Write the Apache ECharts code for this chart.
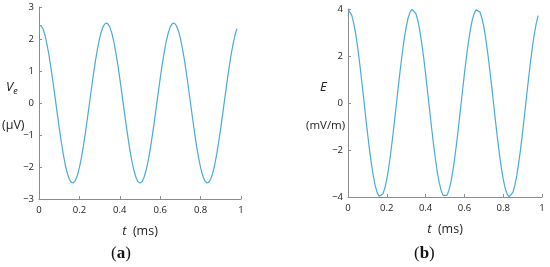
<!DOCTYPE html>
<html>
<head>
<meta charset="utf-8">
<script src="https://cdn.jsdelivr.net/npm/echarts@6/dist/echarts.min.js"></script>
<style>
  html, body { margin: 0; padding: 0; background: #fff; }
  #chart { width: 550px; height: 267px; }
</style>
</head>
<body>
<div id="chart"></div>
<script>
// time samples (ms)
const timeMs = [
  0, 0.01, 0.02, 0.03, 0.04, 0.05, 0.06, 0.07, 0.08, 0.09,
  0.1, 0.11, 0.12, 0.13, 0.14, 0.15, 0.16, 0.17, 0.18, 0.19,
  0.2, 0.21, 0.22, 0.23, 0.24, 0.25, 0.26, 0.27, 0.28, 0.29,
  0.3, 0.31, 0.32, 0.33, 0.34, 0.35, 0.36, 0.37, 0.38, 0.39,
  0.4, 0.41, 0.42, 0.43, 0.44, 0.45, 0.46, 0.47, 0.48, 0.49,
  0.5, 0.51, 0.52, 0.53, 0.54, 0.55, 0.56, 0.57, 0.58, 0.59,
  0.6, 0.61, 0.62, 0.63, 0.64, 0.65, 0.66, 0.67, 0.68, 0.69,
  0.7, 0.71, 0.72, 0.73, 0.74, 0.75, 0.76, 0.77, 0.78, 0.79,
  0.8, 0.81, 0.82, 0.83, 0.84, 0.85, 0.86, 0.87, 0.88, 0.89,
  0.9, 0.91, 0.92, 0.93, 0.94, 0.95, 0.96, 0.97, 0.98
]
// (a) Ve in µV
const veValues = [
  2.42, 2.42, 2.32, 2.11, 1.82, 1.47, 1.06, 0.62, 0.16, -0.31,
  -0.77, -1.2, -1.59, -1.93, -2.19, -2.38, -2.48, -2.5, -2.42, -2.26,
  -2.02, -1.71, -1.34, -0.92, -0.47, 0, 0.47, 0.92, 1.34, 1.71,
  2.02, 2.26, 2.42, 2.5, 2.48, 2.38, 2.19, 1.93, 1.59, 1.2,
  0.77, 0.31, -0.16, -0.62, -1.06, -1.47, -1.82, -2.11, -2.32, -2.46,
  -2.5, -2.46, -2.32, -2.11, -1.82, -1.47, -1.06, -0.62, -0.16, 0.31,
  0.77, 1.2, 1.59, 1.93, 2.19, 2.38, 2.48, 2.5, 2.42, 2.26,
  2.02, 1.71, 1.34, 0.92, 0.47, 0, -0.47, -0.92, -1.34, -1.71,
  -2.02, -2.26, -2.42, -2.5, -2.48, -2.38, -2.19, -1.93, -1.59, -1.2,
  -0.77, -0.31, 0.16, 0.62, 1.06, 1.47, 1.82, 2.11, 2.32
]
// (b) E in mV/m
const eValues = [
  4, 3.93, 3.72, 3.38, 2.92, 2.35, 1.7, 0.99, 0.25, -0.5,
  -1.24, -1.93, -2.55, -3.08, -3.51, -3.8, -3.97, -3.99, -3.87, -3.62,
  -3.24, -2.74, -2.14, -1.47, -0.75, 0, 0.75, 1.47, 2.14, 2.74,
  3.24, 3.62, 3.87, 3.99, 3.97, 3.8, 3.51, 3.08, 2.55, 1.93,
  1.24, 0.5, -0.25, -0.99, -1.7, -2.35, -2.92, -3.38, -3.72, -3.93,
  -4, -3.93, -3.72, -3.38, -2.92, -2.35, -1.7, -0.99, -0.25, 0.5,
  1.24, 1.93, 2.55, 3.08, 3.51, 3.8, 3.97, 3.99, 3.87, 3.62,
  3.24, 2.74, 2.14, 1.47, 0.75, 0, -0.75, -1.47, -2.14, -2.74,
  -3.24, -3.62, -3.87, -3.99, -3.97, -3.8, -3.51, -3.08, -2.55, -1.93,
  -1.24, -0.5, 0.25, 0.99, 1.7, 2.35, 2.92, 3.38, 3.72
]

const lineColor = '#4aaad8'
const axisColor = '#8c8c8c'
const tickFont = { color: '#222', fontSize: 9.5, fontFamily: 'Open Sans' }
const fmt = v => String(v).replace('-', '\u2212')

const xAxisBase = (gridIndex) => ({
  type: 'value',
  gridIndex,
  min: 0,
  max: 1,
  interval: 0.2,
  name: '{i|t}  (ms)',
  nameLocation: 'middle',
  nameGap: 26,
  nameTextStyle: {
    fontSize: 12.5, color: '#222', fontFamily: 'Open Sans',
    rich: { i: { fontStyle: 'italic', fontSize: 13, fontFamily: 'Open Sans', color: '#222' } }
  },
  axisLine: { onZero: false, lineStyle: { color: axisColor, width: 1 } },
  axisTick: { inside: true, length: 3, lineStyle: { color: axisColor } },
  axisLabel: { ...tickFont, margin: 6, formatter: fmt },
  splitLine: { show: false }
})

const yAxisBase = (gridIndex, min, max, interval) => ({
  type: 'value',
  gridIndex,
  min, max, interval,
  axisLine: { show: true, onZero: false, lineStyle: { color: axisColor, width: 1 } },
  axisTick: { show: true, inside: true, length: 3, lineStyle: { color: axisColor } },
  axisLabel: { ...tickFont, margin: 5, formatter: fmt },
  splitLine: { show: false }
})

const chart = echarts.init(document.getElementById('chart'), null, { renderer: 'canvas' })

chart.setOption({
  animation: false,
  backgroundColor: '#fff',
  grid: [
    { left: 39, top: 7, width: 202, height: 192 },
    { left: 348, top: 9, width: 194, height: 188 }
  ],
  xAxis: [xAxisBase(0), xAxisBase(1)],
  yAxis: [yAxisBase(0, -3, 3, 1), yAxisBase(1, -4, 4, 2)],
  series: [
    {
      type: 'line',
      xAxisIndex: 0, yAxisIndex: 0,
      data: timeMs.map((t, i) => [t, veValues[i]]),
      smooth: false,
      showSymbol: false,
      lineStyle: { color: lineColor, width: 1.2 }
    },
    {
      type: 'line',
      xAxisIndex: 1, yAxisIndex: 1,
      data: timeMs.map((t, i) => [t, eValues[i]]),
      smooth: false,
      showSymbol: false,
      lineStyle: { color: lineColor, width: 1.2 }
    }
  ],
  graphic: [
    {
      type: 'text', left: 6, top: 81,
      style: {
        text: '{v|V}{s|e}',
        rich: {
          v: { fontSize: 13, fontStyle: 'italic', fontFamily: 'Open Sans', fill: '#222' },
          s: { fontSize: 9, fontStyle: 'italic', fontFamily: 'Open Sans', fill: '#222', padding: [8, 0, 0, 0] }
        }
      }
    },
    {
      type: 'text', left: 2, top: 119,
      style: { text: '(\u03bcV)', fontSize: 12.5, fontFamily: 'Open Sans', fill: '#222' }
    },
    {
      type: 'text', left: 320, top: 81,
      style: { text: 'E', fontSize: 13, fontStyle: 'italic', fontFamily: 'Open Sans', fill: '#222' }
    },
    {
      type: 'text', left: 306, top: 120,
      style: { text: '(mV/m)', fontSize: 11.5, fontFamily: 'Open Sans', fill: '#222' }
    },
    {
      type: 'text', left: 111, top: 245,
      style: {
        text: '({b|a})',
        fontSize: 17, fontFamily: 'Liberation Serif', fill: '#111',
        rich: { b: { fontSize: 17, fontWeight: 'bold', fontFamily: 'Liberation Serif', fill: '#111' } }
      }
    },
    {
      type: 'text', left: 414, top: 245,
      style: {
        text: '({b|b})',
        fontSize: 17, fontFamily: 'Liberation Serif', fill: '#111',
        rich: { b: { fontSize: 17, fontWeight: 'bold', fontFamily: 'Liberation Serif', fill: '#111' } }
      }
    }
  ]
})
</script>
</body>
</html>
